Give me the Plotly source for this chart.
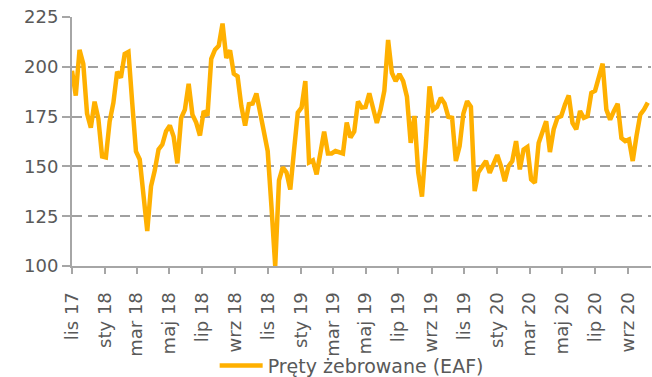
import pandas as pd
import plotly.graph_objects as go

# Weekly rebar price index (EAF), from early November 2017
start_date = "2017-11-01"
rebar_eaf = [
    198, 185.5, 208.5, 201.5, 176.5, 169.5, 182.5, 174, 155, 154.5,
    172.5, 182, 197.5, 194.5, 206.5, 207.5, 182, 157.5, 153.5, 135,
    117.5, 140, 148, 158.5, 161, 167.7, 170.5, 165, 151.5, 174.3,
    178.5, 191.5, 176, 172, 165.5, 177.8, 175.5, 204, 208.6, 210.6,
    221.7, 204.4, 208.3, 196.5, 195.2, 180.2, 170.5, 181.2, 181.6, 186.6,
    177, 166.5, 157.7, 130, 100, 143, 149.5, 147, 138.4, 158,
    177, 179.5, 192.8, 152, 153, 146, 155.5, 167.5, 156.5, 156.5,
    157.7, 156.8, 156.5, 172, 164.5, 167.5, 182.6, 179.5, 179.8, 186.7,
    179, 171.8, 178.5, 188, 213.5, 197, 192.8, 196.3, 192.8, 185,
    161.8, 175.3, 147, 134.8, 160.2, 190.2, 178.5, 179.9, 184.4, 181.6,
    174.9, 174.4, 152.7, 160.2, 176.5, 182.7, 179.9, 137.6, 147.1, 150.1,
    152.7, 146.8, 151.8, 155.7, 150.1, 142.6, 150.1, 152.7, 162.7, 148.5,
    158.5, 159.8, 143.5, 141.8, 161.8, 166.8, 172.7, 157.2, 168.6, 174.4,
    175.2, 181.1, 185.6, 171.8, 168.6, 177.8, 174.4, 175.2, 186.9, 188,
    194.4, 201.6, 178.5, 173.5, 177.8, 181.4, 164.2, 162.7, 163.5, 152.7,
    165.2, 176, 178.5, 182,
]
dates = pd.date_range(start_date, periods=len(rebar_eaf), freq="7D")

tick_dates = pd.date_range("2017-11-01", "2020-09-01", freq="2MS")
tick_labels = [
    "lis 17", "sty 18", "mar 18", "maj 18", "lip 18", "wrz 18",
    "lis 18", "sty 19", "mar 19", "maj 19", "lip 19", "wrz 19",
    "lis 19", "sty 20", "mar 20", "maj 20", "lip 20", "wrz 20",
]
y_ticks = [100, 125, 150, 175, 200, 225]

FONT = "DejaVu Sans"
TEXT = "#595959"
AXIS = "#A6A6A6"

fig = go.Figure(
    go.Scatter(
        x=dates,
        y=rebar_eaf,
        mode="lines",
        name="Pręty żebrowane (EAF)",
        line=dict(color="#FFB000", width=4.5),
    )
)

fig.update_layout(
    width=652,
    height=377,
    margin=dict(l=72, r=1, t=17, b=111, autoexpand=False),
    paper_bgcolor="white",
    plot_bgcolor="white",
    font=dict(family=FONT, size=18, color=TEXT),
    showlegend=True,
    legend=dict(
        orientation="h",
        x=0.483,
        xanchor="center",
        y=-0.40,
        yanchor="middle",
        itemwidth=43,
        font=dict(family=FONT, size=19, color=TEXT),
        bgcolor="rgba(0,0,0,0)",
    ),
)

fig.update_xaxes(
    type="date",
    range=["2017-11-01", "2020-10-13"],
    tickvals=tick_dates,
    ticktext=tick_labels,
    tickangle=-90,
    ticks="outside",
    ticklen=6,
    tickwidth=2,
    tickcolor=AXIS,
    showline=True,
    linecolor=AXIS,
    linewidth=2,
    showgrid=False,
    zeroline=False,
    automargin=False,
    ticklabelstandoff=11,
    tickfont=dict(family=FONT, size=18, color=TEXT),
)

fig.update_yaxes(
    range=[100, 225],
    tickvals=y_ticks,
    ticks="outside",
    ticklen=8,
    tickwidth=2,
    tickcolor=AXIS,
    showline=True,
    linecolor=AXIS,
    linewidth=2,
    showgrid=True,
    gridcolor="#A0A0A0",
    gridwidth=2,
    griddash="10px,6px",
    zeroline=False,
    automargin=False,
    tickfont=dict(family=FONT, size=18, color=TEXT),
)

fig.write_html("out.html")
